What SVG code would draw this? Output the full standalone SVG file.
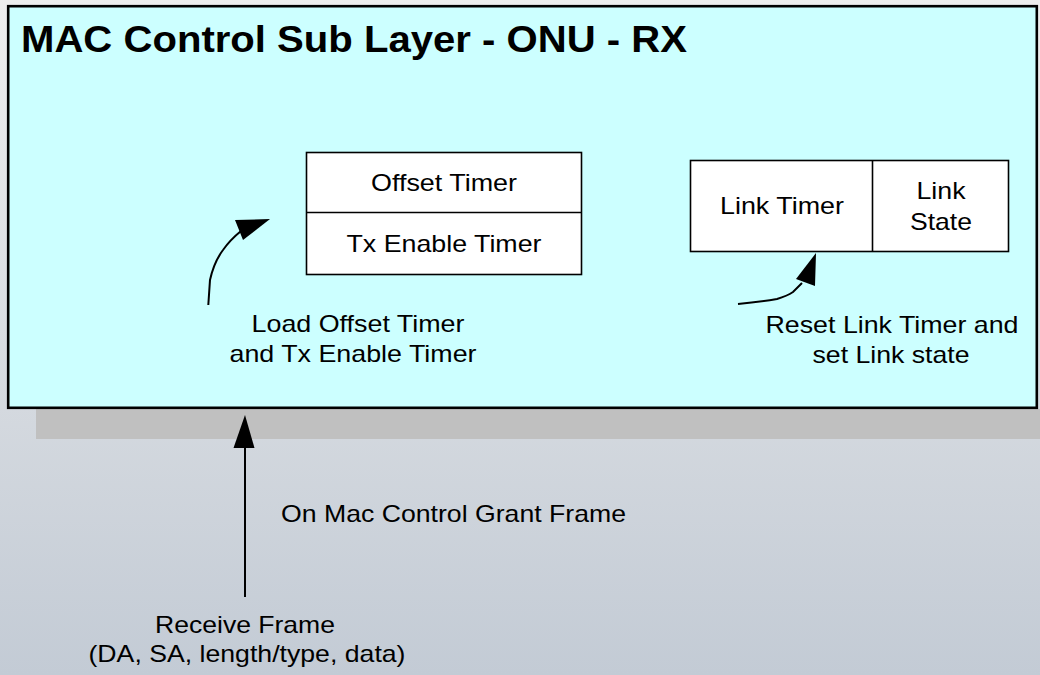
<svg xmlns="http://www.w3.org/2000/svg" width="1040" height="675" viewBox="0 0 1040 675">
  <defs>
    <linearGradient id="bg" x1="0" y1="0" x2="0" y2="1">
      <stop offset="0" stop-color="#eeeeee"/>
      <stop offset="1" stop-color="#c3cbd5"/>
    </linearGradient>
    <style>
      text { font-family: "Liberation Sans", Arial, sans-serif; fill: #000; }
      .t { font-size: 24px; }
      .c { text-anchor: middle; }
      .title { font-size: 36px; font-weight: bold; }
      .box { fill: #ffffff; stroke: #000; stroke-width: 1.6; }
      .line { fill: none; stroke: #000; stroke-width: 2; }
      .head { fill: #000; stroke: none; }
    </style>
  </defs>
  <rect x="0" y="0" width="1040" height="675" fill="url(#bg)"/>
  <g id="mac-layer">
    <rect x="36" y="409" width="1004" height="30" fill="#c0c0c0"/>
    <rect x="8.2" y="6.2" width="1028.6" height="401.6" fill="#ccffff" stroke="#000" stroke-width="2.6"/>
    <text class="title" x="21" y="52" textLength="666" lengthAdjust="spacingAndGlyphs">MAC Control Sub Layer - ONU - RX</text>
  </g>
  <g id="timers">
    <rect class="box" x="306.5" y="152.5" width="275" height="122"/>
    <line x1="306.5" y1="212.5" x2="581.5" y2="212.5" stroke="#000" stroke-width="1.6"/>
    <text class="t c" x="444" y="191" textLength="146" lengthAdjust="spacingAndGlyphs">Offset Timer</text>
    <text class="t c" x="444" y="252" textLength="195" lengthAdjust="spacingAndGlyphs">Tx Enable Timer</text>
  </g>
  <g id="link">
    <rect class="box" x="690.5" y="160.5" width="318" height="91"/>
    <line x1="872.5" y1="160.5" x2="872.5" y2="251.5" stroke="#000" stroke-width="1.6"/>
    <text class="t c" x="782" y="214" textLength="124" lengthAdjust="spacingAndGlyphs">Link Timer</text>
    <text class="t c" x="941" y="199" textLength="49" lengthAdjust="spacingAndGlyphs">Link</text>
    <text class="t c" x="941" y="230" textLength="62" lengthAdjust="spacingAndGlyphs">State</text>
  </g>
  <g id="labels">
    <text class="t c" x="358" y="332" textLength="213" lengthAdjust="spacingAndGlyphs">Load Offset Timer</text>
    <text class="t c" x="353" y="362" textLength="247" lengthAdjust="spacingAndGlyphs">and Tx Enable Timer</text>
    <text class="t c" x="892" y="333" textLength="253" lengthAdjust="spacingAndGlyphs">Reset Link Timer and</text>
    <text class="t c" x="891" y="363" textLength="157" lengthAdjust="spacingAndGlyphs">set Link state</text>
    <text class="t" x="281" y="522" textLength="345" lengthAdjust="spacingAndGlyphs">On Mac Control Grant Frame</text>
    <text class="t c" x="245" y="633" textLength="180" lengthAdjust="spacingAndGlyphs">Receive Frame</text>
    <text class="t c" x="247" y="662" textLength="317" lengthAdjust="spacingAndGlyphs">(DA, SA, length/type, data)</text>
  </g>
  <g id="connectors">
    <path class="line" d="M208.3,305 L210,280 Q214,262 223,250 Q230,240 241,231"/>
    <polygon class="head" points="270,219 235,220 243,240"/>
    <path class="line" d="M738,304 Q760,302 777,299 Q787,296 793,292 L802,283"/>
    <polygon class="head" points="816,253 796,279 815,286"/>
    <line class="line" x1="245" y1="597" x2="245" y2="445"/>
    <polygon class="head" points="245,415 233.5,448 254.5,448"/>
  </g>
</svg>
